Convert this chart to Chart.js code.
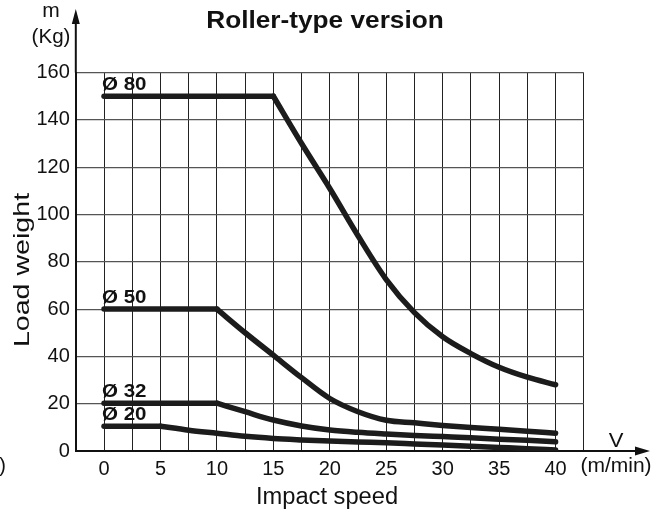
<!DOCTYPE html>
<html>
<head>
<meta charset="utf-8">
<script src="https://cdn.jsdelivr.net/npm/chart.js@4/dist/chart.umd.min.js"></script>
<style>
  html, body { margin: 0; padding: 0; background: #fff; }
  #wrap { width: 667px; height: 510px; }
</style>
</head>
<body>
<div id="wrap"><canvas id="c" width="667" height="510"></canvas></div>
<script>
// ---- data ----
const speeds = [0, 2.5, 5, 7.5, 10, 12.5, 15, 17.5, 20, 22.5, 25, 27.5, 30, 32.5, 35, 37.5, 40];
const load80 = [150, 150, 150, 150, 150, 150, 150, 130, 111, 91, 72.5, 58.5, 48.3, 41.2, 35.4, 31.2, 28];
const load50 = [60, 60, 60, 60, 60, 50, 40.5, 31, 22.2, 16.6, 13, 11.9, 10.8, 9.9, 9.2, 8.4, 7.5];
const load32 = [20.2, 20.2, 20.2, 20.2, 20.2, 16.6, 13.1, 10.6, 8.9, 7.9, 7.2, 6.6, 6.1, 5.6, 5.0, 4.5, 3.9];
const load20 = [10.5, 10.5, 10.5, 8.8, 7.5, 6.2, 5.3, 4.7, 4.2, 3.8, 3.5, 3.0, 2.5, 2.0, 1.5, 1.0, 0.4];
const seriesNames = ['Ø 80', 'Ø 50', 'Ø 32', 'Ø 20'];
const xTickValues = [0, 5, 10, 15, 20, 25, 30, 35, 40];
const yTickValues = [0, 20, 40, 60, 80, 100, 120, 140, 160];

const chartTitle = 'Roller-type version';
const xTitle = 'Impact speed';
const yTitle = 'Load weight';
const yUnit = ['m', '(Kg)'];
const xUnit = ['V', '(m/min)'];

const FONT = '"Liberation Sans", Arial, Helvetica, sans-serif';
const INK = '#111';
const LINE = '#1c1c1c';

const seriesValues = [load80, load50, load32, load20];

// each curve: a flat (straight) part and a decreasing smooth part
const datasets = [];
seriesValues.forEach((vals, i) => {
  let k = 0;
  while (k + 1 < vals.length && vals[k + 1] === vals[0]) k++;
  const pts = speeds.map((s, j) => ({ x: s, y: vals[j] }));
  const common = {
    borderColor: LINE,
    borderWidth: 5.5,
    borderCapStyle: 'round',
    borderJoinStyle: 'round',
    pointRadius: 0,
    fill: false
  };
  datasets.push(Object.assign({ label: seriesNames[i], data: pts.slice(0, k + 1), tension: 0 }, common));
  datasets.push(Object.assign({ label: seriesNames[i] + ' (decay)', data: pts.slice(k), cubicInterpolationMode: 'monotone' }, common));
});

function drawText(ctx, text, x, y, font, align, sx) {
  ctx.save();
  ctx.translate(x, y);
  ctx.scale(sx || 1, 1);
  ctx.font = font;
  ctx.textAlign = align || 'center';
  ctx.textBaseline = 'alphabetic';
  ctx.fillStyle = INK;
  ctx.fillText(text, 0, 0);
  ctx.restore();
}

const decorPlugin = {
  id: 'decor',
  afterDatasetsDraw(chart) {
    const ctx = chart.ctx;
    const xs = chart.scales.x, ys = chart.scales.y;
    const area = chart.chartArea;

    // series labels at start of each curve
    seriesValues.forEach((vals, i) => {
      const px = xs.getPixelForValue(speeds[0]) - 2;
      const py = ys.getPixelForValue(vals[0]) - 6;
      drawText(ctx, seriesNames[i], px, py, 'bold 19px ' + FONT, 'left', 1.08);
    });

    // axis extensions with arrows
    ctx.save();
    ctx.strokeStyle = INK;
    ctx.fillStyle = INK;
    ctx.lineWidth = 2;
    ctx.beginPath();
    ctx.moveTo(area.left, area.top);
    ctx.lineTo(area.left, 20);
    ctx.stroke();
    ctx.beginPath();
    ctx.moveTo(area.left, 9);
    ctx.lineTo(area.left - 4, 24);
    ctx.lineTo(area.left + 4, 24);
    ctx.closePath();
    ctx.fill();
    ctx.beginPath();
    ctx.moveTo(area.right, area.bottom);
    ctx.lineTo(640, area.bottom);
    ctx.stroke();
    ctx.beginPath();
    ctx.moveTo(650, area.bottom);
    ctx.lineTo(635, area.bottom - 4.5);
    ctx.lineTo(635, area.bottom + 4.5);
    ctx.closePath();
    ctx.fill();
    ctx.restore();

    // titles and units
    drawText(ctx, chartTitle, 325, 28, 'bold 23px ' + FONT, 'center', 1.14);
    drawText(ctx, xTitle, 327, 504, '23px ' + FONT, 'center', 1.03);
    drawText(ctx, yUnit[0], 51, 17, '20px ' + FONT, 'center', 1.05);
    drawText(ctx, yUnit[1], 51, 43, '20px ' + FONT, 'center', 1.03);
    drawText(ctx, xUnit[0], 616, 447, '21px ' + FONT, 'center', 1.05);
    drawText(ctx, xUnit[1], 616, 472, '20px ' + FONT, 'center', 1.05);
    drawText(ctx, ')', 6, 472, '20px ' + FONT, 'right', 1);

    // rotated y title
    ctx.save();
    ctx.translate(28.5, 270);
    ctx.rotate(-Math.PI / 2);
    ctx.scale(1.3, 1);
    ctx.font = '22px ' + FONT;
    ctx.textAlign = 'center';
    ctx.textBaseline = 'alphabetic';
    ctx.fillStyle = INK;
    ctx.fillText(yTitle, 0, 0);
    ctx.restore();
  }
};

new Chart(document.getElementById('c'), {
  type: 'line',
  data: { datasets },
  options: {
    responsive: false,
    animation: false,
    layout: { padding: { top: 72.6, right: 83.2, bottom: 0, left: 0 } },
    plugins: { legend: { display: false }, tooltip: { enabled: false }, title: { display: false } },
    scales: {
      x: {
        type: 'linear',
        min: -2.5,
        max: 42.5,
        ticks: {
          stepSize: 2.5,
          autoSkip: false,
          maxRotation: 0,
          padding: 6,
          color: INK,
          font: { family: FONT, size: 20 },
          callback: (v) => (xTickValues.includes(v) ? String(v) : '')
        },
        grid: { color: '#222', lineWidth: 1, drawTicks: false },
        border: { display: true, color: INK, width: 2 },
        afterFit(s) { s.height = 59; }
      },
      y: {
        min: 0,
        max: 160,
        ticks: {
          stepSize: 20,
          padding: 6,
          color: INK,
          font: { family: FONT, size: 20 },
          callback: (v) => (yTickValues.includes(v) ? String(v) : '')
        },
        grid: { color: '#555', lineWidth: 1.2, drawTicks: false },
        border: { display: true, color: INK, width: 2 },
        afterFit(s) { s.width = 75.8; }
      }
    }
  },
  plugins: [decorPlugin]
});
</script>
</body>
</html>
